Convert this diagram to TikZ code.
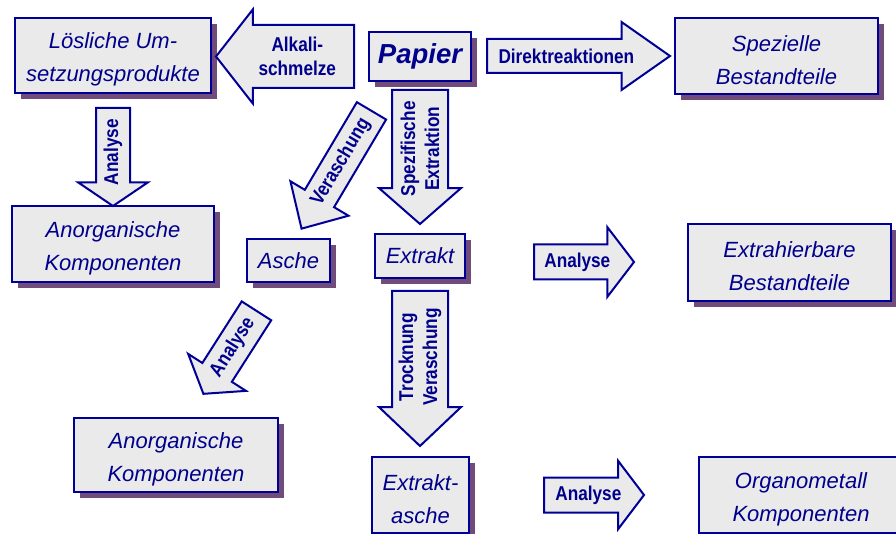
\documentclass[tikz,border=0pt]{standalone}
\usepackage{fontspec}
\setmainfont{Liberation Sans}
\newfontfamily\pfeilschrift[FakeStretch=0.86]{Liberation Sans}
\usetikzlibrary{shapes.arrows,shadows,calc}
\definecolor{rahmen}{RGB}{0,0,150}
\definecolor{schrift}{RGB}{0,0,140}
\definecolor{grau}{RGB}{234,234,234}
\definecolor{schatten}{RGB}{112,76,122}
\newcommand{\oben}{\rule{0pt}{24pt}}
\tikzset{
	kasten/.style={draw=rahmen,fill=grau,line width=2pt,text=schrift,align=center,inner sep=0pt,
		font=\fontsize{22}{33}\selectfont\itshape,
		drop shadow={shadow xshift=6pt,shadow yshift=-6pt,fill=schatten,opacity=1}},
	pfeil/.style={single arrow,draw=rahmen,fill=grau,line width=2pt,inner xsep=0pt,anchor=tail},
	pfeiltext/.style={text=schrift,align=center,inner sep=0pt,
		font=\pfeilschrift\bfseries\fontsize{20}{24}\selectfont},
}
\begin{document}
\begin{tikzpicture}[x=1pt,y=-1pt,line join=miter]
	\useasboundingbox (0,0) rectangle (896,534);
	\clip (0,0) rectangle (896,534);
	%Kästen
	\node[kasten,minimum width=196,minimum height=75] (loes) at (113,55.5) {\oben Lösliche Um-\\setzungsprodukte};
	\node[kasten,minimum width=102,minimum height=49,font=\fontsize{27.5}{30}\selectfont\bfseries\itshape] (papier) at (420,56.5) {Papier};
	\node[kasten,minimum width=203,minimum height=76] (spez) at (776.5,56) {\oben Spezielle\\Bestandteile};
	\node[kasten,minimum width=202,minimum height=76] (anorgA) at (113,244) {\oben Anorganische\\Komponenten};
	\node[kasten,minimum width=83,minimum height=43] (asche) at (288.5,260.5) {Asche};
	\node[kasten,minimum width=90,minimum height=44] (extrakt) at (420,256) {\raisebox{-2pt}{Extrakt}};
	\node[kasten,minimum width=203,minimum height=77] (extrah) at (789.5,262.5) {\oben Extrahierbare\\Bestandteile};
	\node[kasten,minimum width=204,minimum height=74] (anorgB) at (176,455) {\oben Anorganische\\Komponenten};
	\node[kasten,minimum width=97,minimum height=76] (easche) at (420.5,495) {\oben Extrakt-\\asche};
	\node[kasten,minimum width=204,minimum height=76] (organo) at (801,495) {\oben Organometall\\Komponenten};
	%Pfeile
	\node[pfeil,rotate=180,minimum height=138,inner ysep=30.5,single arrow head extend=15.5,single arrow tip angle=103.9] (pAlkali) at (355,56.5) {};
	\node[pfeil,minimum height=183,inner ysep=16,single arrow head extend=17,single arrow tip angle=70.1] (pDirekt) at (486,56) {};
	\node[pfeil,rotate=-90,minimum height=98,inner ysep=16,single arrow head extend=18,single arrow tip angle=111.8] (pAnaA) at (113,107) {};
	\node[pfeil,rotate=239.3,minimum height=137,inner ysep=16,single arrow head extend=16.75,single arrow tip angle=87.8] (pVera) at (372,110) {};
	\node[pfeil,rotate=-90,minimum height=134,inner ysep=27,single arrow head extend=13,single arrow tip angle=97.6] (pSpez) at (420,89) {};
	\node[pfeil,rotate=237.4,minimum height=98.5,inner ysep=16.5,single arrow head extend=16.8,single arrow tip angle=106.9] (pAnaB) at (257,310) {};
	\node[pfeil,rotate=-90,minimum height=155,inner ysep=27,single arrow head extend=13,single arrow tip angle=93] (pTrock) at (420,290) {};
	\node[pfeil,minimum height=100,inner ysep=16.5,single arrow head extend=17.5,single arrow tip angle=105.2] (pAnaC) at (533,262) {};
	\node[pfeil,minimum height=100,inner ysep=16.5,single arrow head extend=16.5,single arrow tip angle=105.7] (pAnaD) at (543,495) {};
	%Pfeiltexte
	\node[pfeiltext] (tAlkali) at (pAlkali.center) {Alkali-\\schmelze};
	\node[pfeiltext] (tDirekt) at (pDirekt.center) {Direktreaktionen};
	\node[pfeiltext,rotate=90] (tAnaA) at ($(pAnaA.center)!1pt!(pAnaA.tip)$) {Analyse};
	\node[pfeiltext,rotate=59.3] (tVera) at (pVera.center) {Veraschung};
	\node[pfeiltext,rotate=90] (tSpez) at ($(pSpez.center)!4pt!(pSpez.tip)$) {Spezifische\\Extraktion};
	\node[pfeiltext,rotate=57.4] (tAnaB) at ($(pAnaB.center)!1pt!(pAnaB.tip)$) {Analyse};
	\node[pfeiltext,rotate=90] (tTrock) at ($(pTrock.center)!2pt!(pTrock.tip)$) {Trocknung\\Veraschung};
	\node[pfeiltext] (tAnaC) at (pAnaC.center) {Analyse};
	\node[pfeiltext] (tAnaD) at ($(pAnaD.center)!1pt!(pAnaD.tip)$) {Analyse};
\end{tikzpicture}
\end{document}
